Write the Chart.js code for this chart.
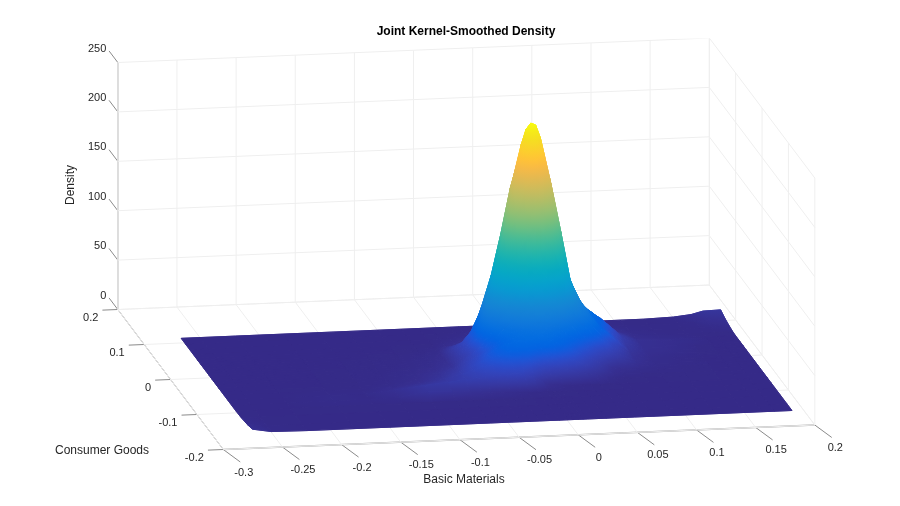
<!DOCTYPE html>
<html>
<head>
<meta charset="utf-8">
<title>Joint Kernel-Smoothed Density</title>
<script src="https://cdn.jsdelivr.net/npm/chart.js@4/dist/chart.umd.min.js"></script>
<style>
  body { margin: 0; background: #fff; }
  canvas { display: block; }
</style>
</head>
<body>
<canvas id="grafico" width="900" height="506"></canvas>
<script>
// ====== DATA ======
const titleText = 'Joint Kernel-Smoothed Density';
const xLabel = 'Basic Materials';
const yLabel = 'Consumer Goods';
const zLabel = 'Density';

const xTicks = [-0.3, -0.25, -0.2, -0.15, -0.1, -0.05, 0, 0.05, 0.1, 0.15, 0.2];
const yTicks = [-0.2, -0.1, 0, 0.1, 0.2];
const zTicks = [0, 50, 100, 150, 200, 250];

const xGrid = [-0.266, -0.25, -0.22, -0.18, -0.15, -0.125, -0.1, -0.08, -0.065,
  -0.055, -0.047, -0.039, -0.031, -0.023, -0.015, -0.007, 0.001, 0.005, 0.009, 0.013, 0.017, 0.025, 0.033, 0.041, 0.049, 0.057, 0.065, 0.073,
  0.09, 0.105, 0.125, 0.15, 0.165, 0.175, 0.19];
const yGrid = [-0.158, -0.14, -0.115, -0.095, -0.08, -0.065, -0.05, -0.04, -0.03, -0.022, -0.016, -0.01, -0.004,
  0.002, 0.008, 0.014, 0.02, 0.026, 0.032, 0.038, 0.044, 0.05, 0.056, 0.066, 0.08, 0.095, 0.112];

// one row per yGrid value, one column per xGrid value
const density = [
  [4,.8,.3,.3,.3,.3,.3,.3,.3, .3,.3,.3,.3,.3,.3,.3,.3,.3,.3,.3,.3,.3,.3,.3,.3,.3,.3,.3, .3,.3,.3,.3,.3,.3,.3],
  [2,.6,.3,.3,.3,.3,.3,.3,.3, .3,.3,.3,.3,.3,.3,.3,.3,.3,.3,.3,.3,.3,.3,.3,.3,.3,.3,.3, .3,.3,.3,.3,.3,.3,.3],
  [.6,.3,.3,.3,.3,.3,.3,.3,.3, .3,.3,.3,.3,.3,.3,.3,.3,.3,.3,.3,.3,.3,.3,.3,.3,.3,.3,.3, .3,.3,.3,.3,.3,.3,.3],
  [.3,.3,.3,.6,.4,.3,.5,.5,.4, .5,.5,.5,.4,.4,.3,.3,.3,.3,.3,.3,.3,.3,.3,.3,.3,.3,.3,.3, .3,.3,.3,.3,.3,.3,.3],
  [.3,.3,.3,1.2,.7,2,6,5,4, 3.5,3,2.5,2,1.5,1,.8,.6,.5,.5,.4,.4,.3,.3,.3,.3,.3,.3,.3, .3,.3,.3,.3,.3,.3,.3],
  [.3,.3,.3,1,.8,3.5,7,9,11, 12,13,14,15,15,14,10,5,3,2.5,2,1.2,.9,.7,.6,.5,.4,.3,.3, .3,.3,.3,.3,.3,.3,.3],
  [.3,.3,.3,.4,.6,1.5,3.5,7,11, 15,18,20,22,23,23,22,18,16,15,14,13,11,9,7,5,2.5,1,.5, .3,.3,.4,.3,.3,.3,.3],
  [.3,.3,.3,.3,.5,1,2.5,5.5,10, 15,19,23,26,29,30,30,27,26,25,24,23,20,17,13,9,6,3,1.5, .6,.4,.5,.3,.3,.3,.3],
  [.3,.3,.3,.3,.4,.9,2,4.5,8.5, 14,18,23,28,32,35,36,36,36,36,35,33,29,24,19,14,9,5,3, 1.5,.8,.6,.3,.3,.3,.3],
  [.3,.3,.3,.3,.4,.8,1.8,3.8,7, 13,17,22,27,32,36,39,40,41,41,40,39,34,29,24,19,14,9,6, 2.5,1.1,.6,.3,.3,.3,.3],
  [.3,.3,.3,.3,.4,.8,1.6,3,6, 12,16,21,27,33,38,43,47,48,48,48,47,41,34,28,23,17,13,9, 3.5,1.3,.7,.3,.3,.3,.3],
  [.3,.3,.3,.3,.4,.7,1.4,2.6,5, 11,16,22,29,37,46,54,60,63,64,63,61,54,45,36,28,22,17,12, 4,1.5,.8,.3,.3,.3,.3],
  [.3,.3,.3,.3,.4,.6,1.2,2.2,4.5, 10,15,22,33,46,60,75,87,91,93,92,89,77,62,47,37,29,22,15, 4.5,1.8,.8,.3,.3,.3,.3],
  [.3,.3,.3,.3,.4,.5,1,1.8,4, 10,15,24,40,60,83,106,126,133,137,136,130,111,86,62,47,36,26,18, 5,2,1,.3,.3,.3,.3],
  [.3,.3,.3,.3,.3,.5,.9,1.6,3.5, 10,16,26,50,76,108,143,170,180,185,183,173,147,110,72,52,42,31,24, 6,2.4,1.4,.4,.3,.3,.3],
  [.3,.3,.3,.3,.3,.4,.8,1.5,3, 10,16,27,55,89,128,170,204,218,223,221,208,175,128,78,58,44,32,24, 7,2.8,1.8,.4,.3,.3,.3],
  [.3,.3,.3,.3,.3,.4,.7,1.4,2.6, 10,16,26,52,85,129,177,216,231,237,235,222,180,128,81,56,44,32,24, 8,3,2.2,.5,.3,.3,.3],
  [.3,.3,.3,.3,.3,.4,.6,1.2,2.4, 10,16,26,52,83,124,170,204,218,223,221,208,175,128,78,58,44,33,25, 9,3.2,2.5,.5,.3,.3,.3],
  [.3,.3,.3,.3,.3,.3,.5,1,2, 9,13,24,44,70,103,140,168,180,185,183,173,147,108,72,54,45,35,27, 10,3.4,2.5,.6,.3,.3,.3],
  [.3,.3,.3,.3,.3,.3,.4,.8,1.6, 7,10,17,30,50,74,100,122,131,137,135,130,111,84,62,48,43,36,28, 10,3.5,2.5,1.2,.3,.3,.3],
  [.3,.3,.3,.3,.3,.3,.3,.6,1.2, 5,7,12,20,33,50,68,82,89,93,92,88,76,60,50,43,38,34,28, 10,3.5,2.5,1.4,.3,.3,.3],
  [.3,.3,.3,.3,.3,.3,.3,.5,1, 3,5,8,13,20,30,40,50,55,58,57,56,50,44,38,35,32,28,24, 9,3,2,1.2,.3,.3,.3],
  [.3,.3,.3,.3,.3,.3,.3,.4,.7, 2,3,5,8,12,18,24,30,34,36,36,36,34,32,28,26,24,22,20, 8,2.5,1.5,.8,.3,.3,.3],
  [.3,.3,.3,.3,.3,.3,.3,.3,.3, 1.2,2,3,5,8,11,14,18,19,20,21,22,22,20,18,17,16,15,14, 5,1.8,1,.5,.4,.4,.6],
  [.3,.3,.3,.3,.3,.3,.3,.3,.3, .6,.8,1.2,2,3,5,7,9,10,10,10,11,11,11,10,10,9,9,8, 3,1.2,.6,.4,.6,1,1.8],
  [.3,.3,.3,.3,.3,.3,.3,.3,.3, .3,.4,.5,.8,1.2,2,3,4,4.2,4.5,4.8,5,5,5,5,5,4.5,4,3.5, 1.2,.6,.4,.5,1.2,3,3.5],
  [.3,.3,.3,.3,.3,.3,.3,.3,.3, .3,.3,.3,.3,.3,.3,.5,.6,.7,.8,.9,1,1.2,1.2,1.2,1,.8,.6,.5, .3,.3,.3,1.2,3,6,6.5],
];

const parula = [
  [53,42,135],[54,48,147],[54,55,160],[53,61,173],[50,67,186],[44,74,199],[32,83,212],[15,92,221],
  [3,99,225],[2,104,225],[4,109,224],[8,113,222],[13,117,220],[16,121,218],[18,125,216],[20,129,214],
  [20,133,212],[19,137,211],[16,142,210],[12,147,210],[9,152,209],[7,156,207],[6,160,205],[6,164,202],
  [6,167,198],[7,169,194],[10,172,190],[15,174,185],[21,177,180],[29,179,175],[37,181,169],[46,183,164],
  [56,185,158],[66,187,152],[77,188,146],[89,189,140],[101,190,134],[113,191,128],[124,191,123],[135,191,119],
  [146,191,115],[156,191,111],[165,190,107],[174,190,103],[183,189,100],[192,188,96],[200,188,93],[209,187,89],
  [217,186,86],[225,185,82],[233,185,78],[241,185,74],[248,186,68],[253,190,61],[255,195,55],[254,200,50],
  [252,206,46],[250,211,42],[247,216,38],[245,222,33],[245,228,29],[245,235,24],[246,243,19],[249,251,14],
];

// ====== PROJECTION (view of the 3D box onto the chart plane) ======
const origem = { x: 223.3, y: 449.5 };
const passoX = { x: 591.5, y: -24.5 };
const passoY = { x: -105.5, y: -140 };
const alturaZ = 247;

function projeta(x, y, z) {
  const a = (x + 0.3) / 0.5;
  const b = (y + 0.2) / 0.4;
  return {
    x: origem.x + a * passoX.x + b * passoY.x,
    y: origem.y + a * passoX.y + b * passoY.y - (z / 250) * alturaZ,
  };
}

const quebra = { x: NaN, y: NaN };

function segmentos(lista) {
  const pts = [];
  lista.forEach(([p, q]) => pts.push(projeta(...p), projeta(...q), quebra));
  return pts;
}

// ====== GRID AND AXES ======
const linhasGrid = [];
xTicks.forEach(t => {
  linhasGrid.push([[t, -0.2, 0], [t, 0.2, 0]]);
  linhasGrid.push([[t, 0.2, 0], [t, 0.2, 250]]);
});
yTicks.forEach(t => {
  linhasGrid.push([[-0.3, t, 0], [0.2, t, 0]]);
  linhasGrid.push([[0.2, t, 0], [0.2, t, 250]]);
});
zTicks.forEach(t => {
  linhasGrid.push([[-0.3, 0.2, t], [0.2, 0.2, t]]);
  linhasGrid.push([[0.2, 0.2, t], [0.2, -0.2, t]]);
});

const linhasEixo = [
  [[-0.3, -0.2, 0], [-0.3, 0.2, 0]],
];
const linhasFrente = [
  [[-0.3, -0.2, 0], [0.2, -0.2, 0]],
  [[-0.3, 0.2, 0], [-0.3, 0.2, 250]],
];
const marcas = [];
xTicks.forEach(t => marcas.push([[t, -0.2, 0], [t + 0.0062, -0.2 - 0.0365, 0]]));
yTicks.forEach(t => marcas.push([[-0.3, t, 0], [-0.3 - 0.013, t, 0]]));
zTicks.forEach(t => marcas.push([[-0.3, 0.2, t], [-0.3 - 0.0074, 0.2, t + 12.1]]));

// ====== SURFACE ======
const zMax = 237;

function corDe(z) {
  const f = Math.min(parula.length - 1, Math.max(0, (z / zMax) * (parula.length - 1)));
  const i = Math.min(parula.length - 2, Math.floor(f));
  const t = f - i;
  const c = parula[i].map((v, n) => Math.round(v + (parula[i + 1][n] - v) * t));
  return `rgb(${c[0]},${c[1]},${c[2]})`;
}

// plane through the 4 corners of a cell, gives the direction of the colour ramp
function tintaDaCelula(ctx, v) {
  const cx = v.reduce((s, p) => s + p.x, 0) / 4;
  const cy = v.reduce((s, p) => s + p.y, 0) / 4;
  const cz = v.reduce((s, p) => s + p.z, 0) / 4;
  let xx = 0, xy = 0, yy = 0, xz = 0, yz = 0;
  v.forEach(p => {
    const dx = p.x - cx, dy = p.y - cy, dz = p.z - cz;
    xx += dx * dx; xy += dx * dy; yy += dy * dy; xz += dx * dz; yz += dy * dz;
  });
  const det = xx * yy - xy * xy;
  const zs = v.map(p => p.z);
  const lo = Math.min(...zs), hi = Math.max(...zs);
  if (hi - lo < 0.5 || Math.abs(det) < 1e-3) return corDe(cz);
  const gx = (xz * yy - yz * xy) / det;
  const gy = (yz * xx - xz * xy) / det;
  const g2 = gx * gx + gy * gy;
  if (g2 < 1e-6) return corDe(cz);
  const tinta = ctx.createLinearGradient(
    cx + (lo - cz) * gx / g2, cy + (lo - cz) * gy / g2,
    cx + (hi - cz) * gx / g2, cy + (hi - cz) * gy / g2);
  for (let s = 0; s <= 6; s++) tinta.addColorStop(s / 6, corDe(lo + (hi - lo) * s / 6));
  return tinta;
}

const pluginSuperficie = {
  id: 'superficie',
  afterDatasetsDraw(chart) {
    const { ctx, scales } = chart;
    const px = (x, y, z) => {
      const p = projeta(x, y, z);
      return { x: scales.x.getPixelForValue(p.x), y: scales.y.getPixelForValue(p.y), z };
    };
    ctx.save();
    ctx.lineJoin = 'round';
    // back to front: far y first, far x first
    for (let j = yGrid.length - 2; j >= 0; j--) {
      for (let i = xGrid.length - 2; i >= 0; i--) {
        const v = [
          px(xGrid[i], yGrid[j], density[j][i]),
          px(xGrid[i + 1], yGrid[j], density[j][i + 1]),
          px(xGrid[i + 1], yGrid[j + 1], density[j + 1][i + 1]),
          px(xGrid[i], yGrid[j + 1], density[j + 1][i]),
        ];
        const tinta = tintaDaCelula(ctx, v);
        ctx.beginPath();
        v.forEach((p, n) => (n ? ctx.lineTo(p.x, p.y) : ctx.moveTo(p.x, p.y)));
        ctx.closePath();
        ctx.fillStyle = tinta;
        ctx.strokeStyle = tinta;
        ctx.lineWidth = 0.9;
        ctx.fill();
        ctx.stroke();
        ctx.stroke();
      }
    }
    ctx.restore();
  },
  afterDraw(chart) {
    const { ctx, scales } = chart;
    const texto = (t, x, y, align) => {
      ctx.textAlign = align;
      ctx.fillText(t, scales.x.getPixelForValue(x), scales.y.getPixelForValue(y));
    };
    ctx.save();
    ctx.fillStyle = '#262626';
    ctx.textBaseline = 'middle';
    ctx.font = '11px "Liberation Sans", Arial, sans-serif';
    xTicks.forEach(t => {
      const p = projeta(t, -0.2, 0);
      texto(String(t), p.x + 20.5, p.y + 23, 'center');
    });
    yTicks.forEach(t => {
      const p = projeta(-0.3, t, 0);
      texto(String(t), p.x - 19.5, p.y + 8.5, 'right');
    });
    zTicks.forEach(t => {
      const p = projeta(-0.3, 0.2, t);
      texto(String(t), p.x - 11.5, p.y - 14, 'right');
    });
    ctx.font = '12px "Liberation Sans", Arial, sans-serif';
    texto(xLabel, 464, 480, 'center');
    texto(yLabel, 55, 451, 'left');
    ctx.translate(scales.x.getPixelForValue(71), scales.y.getPixelForValue(185));
    ctx.rotate(-Math.PI / 2);
    ctx.textAlign = 'center';
    ctx.fillText(zLabel, 0, 0);
    ctx.restore();
  },
};

// ====== CHART ======
const linhaBase = { showLine: true, pointRadius: 0, tension: 0, fill: false, spanGaps: false };

new Chart(document.getElementById('grafico').getContext('2d'), {
  type: 'scatter',
  data: {
    datasets: [
      { ...linhaBase, data: segmentos(linhasGrid), borderColor: '#efefef', borderWidth: 1 },
      { ...linhaBase, data: segmentos(linhasEixo), borderColor: '#808080', borderWidth: 1 },
      { ...linhaBase, data: segmentos(linhasFrente), borderColor: '#a6a6a6', borderWidth: 1.3 },
      { ...linhaBase, data: segmentos(marcas), borderColor: '#8a8a8a', borderWidth: 1 },
    ],
  },
  options: {
    responsive: false,
    animation: false,
    layout: { padding: { left: 32 } },
    scales: {
      x: { type: 'linear', display: false, min: 32, max: 900 },
      y: { type: 'linear', display: false, min: 38.4, max: 506, reverse: true },
    },
    plugins: {
      legend: { display: false },
      tooltip: { enabled: false },
      title: {
        display: true,
        text: titleText,
        fullSize: false,
        color: '#000',
        padding: { top: 24, bottom: 0 },
        font: { size: 12, weight: 'bold', family: '"Liberation Sans", Arial, sans-serif', lineHeight: 1.2 },
      },
    },
  },
  plugins: [pluginSuperficie],
});
</script>
</body>
</html>
